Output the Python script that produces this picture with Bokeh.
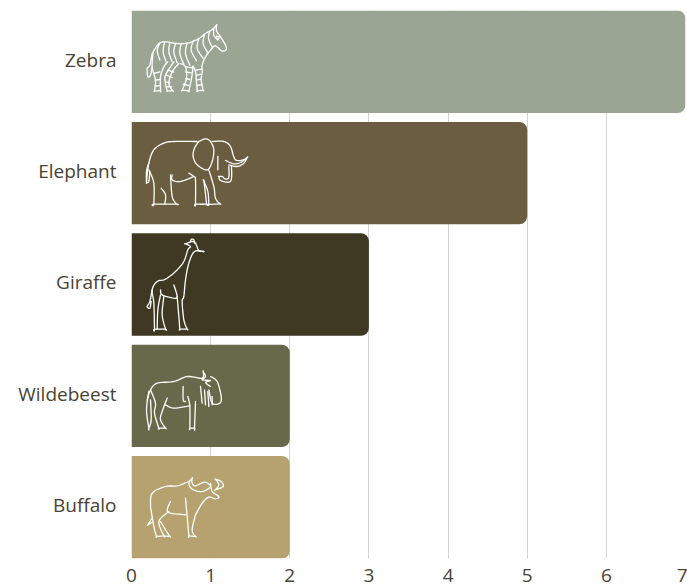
from bokeh.plotting import figure
from bokeh.models import Range1d, FixedTicker
from bokeh.embed import file_html
from bokeh.resources import INLINE

categories = ["Zebra", "Elephant", "Giraffe", "Wildebeest", "Buffalo"]
values = [7, 5, 3, 2, 2]
colors = ["#9ba593", "#6b5d3f", "#3f3924", "#666a4a", "#b5a26e"]
x_ticks = [0, 1, 2, 3, 4, 5, 6, 7]

# Decorative line icons, each in its own local drawing units (3 units = 1 px).
# A point given twice in a row stays a sharp corner.
zebra_icon = [
    [(68,155),(85,130),(105,125),(140,130),(175,128),(205,115),(225,100),(245,88),(258,75),(258,75),(258,92),(270,110),(285,135),(287,148),(275,153),(262,142),(252,137),(240,150),(225,170),(215,195),(215,215),(212,240),(218,270),(218,270),(200,272),(200,272),(198,245),(195,215),(188,198)],
    [(188,198),(183,235),(175,272),(175,272),(155,270),(155,270),(168,235),(165,200),(150,190)],
    [(68,155),(65,200),(75,240),(72,272),(72,272),(90,272),(90,272),(90,230),(100,200),(112,185)],
    [(130,185),(105,225),(105,250),(110,272),(110,272),(127,272),(127,272),(115,250),(125,215),(145,190)],
    [(65,160),(58,195),(50,205),(52,230),(60,225),(65,200)],
    [(88,130),(80,150),(88,180)], [(102,127),(98,155),(108,188)], [(118,128),(115,155),(125,185)],
    [(135,130),(130,155),(140,188)], [(152,130),(148,160),(160,192)], [(170,128),(165,160),(178,195)],
    [(188,122),(182,150),(198,182)], [(205,115),(200,145),(218,175)], [(222,102),(218,130),(232,158)],
    [(238,92),(234,115),(246,143)], [(250,85),(250,105),(262,120)],
    [(258,108),(262,118),(266,110),(258,108)],
    [(196,210),(214,207)], [(198,225),(214,222)], [(198,240),(212,237)], [(200,256),(216,253)],
    [(168,200),(186,203)], [(165,215),(182,218)], [(166,235),(178,238)], [(158,252),(174,256)],
    [(70,220),(88,215)], [(74,240),(90,238)], [(74,258),(90,256)],
    [(112,210),(130,216)], [(108,225),(125,232)], [(106,245),(118,248)], [(110,260),(124,260)],
]
elephant_icon = [
    [(48,185),(55,130),(70,90),(100,70),(130,65),(200,65)],
    [(205,65),(192,85),(188,110),(200,135),(230,150),(245,125),(250,90),(240,65),(225,57),(205,65)],
    [(245,65),(280,65),(300,80),(315,120),(345,118)],
    [(285,122),(310,132),(330,128),(350,113),(350,113),(340,130),(320,140),(295,135)],
    [(262,110),(262,150)],
    [(303,138),(303,175),(295,187),(270,182),(265,170),(265,170),(275,170),(285,178),(295,172),(295,140)],
    [(235,150),(250,200),(255,235),(268,252),(268,252),(235,254),(235,254),(232,215),(218,180)],
    [(220,180),(228,250),(228,253),(195,253),(195,253),(195,180),(190,170),(175,160)],
    [(125,165),(125,180),(150,185),(190,170)],
    [(55,150),(70,190),(70,253),(70,253),(138,253),(138,253),(125,230),(120,165)],
    [(92,205),(105,225),(103,253)],
    [(55,130),(48,155),(48,188),(48,188),(55,185),(58,155)],
]
giraffe_icon = [
    [(220,65),(205,62),(195,40),(185,35),(165,42),(165,42),(180,50),(172,60),(160,95),(135,125),(105,148),(80,155),(65,180),(70,220),(72,298),(72,298),(105,298),(105,298),(95,255),(100,200)],
    [(220,65),(192,65),(175,100),(165,150),(160,200),(155,215),(160,270),(170,298),(170,298),(148,298),(148,298),(145,260),(140,200)],
    [(90,180),(95,195),(130,205),(140,200),(130,165)],
    [(90,195),(82,240),(80,298)],
    [(65,180),(58,215),(50,230),(58,235),(62,215)],
    [(180,35),(183,28),(190,30),(192,40)],
]
wildebeest_icon = [
    [(50,180),(60,150),(80,130),(130,125),(170,110),(215,115),(218,95),(218,95),(225,110),(215,120),(240,122),(225,128),(240,140)],
    [(240,110),(260,125),(272,170),(268,190),(245,190),(235,150)],
    [(210,140),(215,190)], [(222,150),(225,195)], [(232,155),(235,200)], [(245,170),(245,195)],
    [(195,185),(192,265),(192,265),(178,265),(178,265),(178,200),(172,170)],
    [(105,195),(130,205),(178,198)],
    [(60,150),(75,190),(72,220),(85,265),(85,265),(105,265),(105,265),(90,240),(95,215),(110,175)],
    [(55,155),(48,210),(55,265),(55,265),(62,240),(60,180)],
    [(158,140),(158,180),(165,185)],
]
buffalo_icon = [
    [(60,170),(65,130),(105,110),(140,108),(175,95)],
    [(185,85),(185,85),(175,100),(185,118),(215,125),(240,110),(222,97),(195,108),(185,100),(185,85)],
    [(255,88),(255,88),(272,95),(278,110),(255,120),(255,120),(265,105),(255,88)],
    [(240,100),(245,125),(265,140),(255,147),(235,142),(215,160),(195,195)],
    [(195,195),(185,240),(195,260),(195,260),(175,258),(175,258),(170,200),(165,145)],
    [(120,155),(110,180),(120,190),(165,195)],
    [(60,170),(70,230),(78,260),(78,260),(100,258),(100,258),(85,215),(115,185)],
    [(90,215),(105,240),(118,260),(118,260),(100,258)],
    [(65,205),(52,225),(52,225),(65,218)],
]
icons = [zebra_icon, elephant_icon, giraffe_icon, wildebeest_icon, buffalo_icon]
icon_dy = [-31, 328, 658, 988, 1318]   # vertical placement of each icon, local units
icon_dx = -3


def smooth(pts, steps=6):
    """Catmull-Rom rounding so that the icon outlines read as hand-drawn curves."""
    if len(pts) < 3:
        return [p[0] for p in pts], [p[1] for p in pts]
    xs, ys = [pts[0][0]], [pts[0][1]]
    for i in range(len(pts) - 1):
        p0 = pts[max(i - 1, 0)]
        p1, p2 = pts[i], pts[i + 1]
        p3 = pts[min(i + 2, len(pts) - 1)]
        for k in range(1, steps + 1):
            t = k / steps
            f = lambda a, b, c, d: 0.5 * (2*b + (c-a)*t + (2*a-5*b+4*c-d)*t*t + (3*b-a-3*c+d)*t*t*t)
            xs.append(f(p0[0], p1[0], p2[0], p3[0]))
            ys.append(f(p0[1], p1[1], p2[1], p3[1]))
    return xs, ys


n = len(categories)
positions = [n - 1 - i for i in range(n)]
bar_height = 0.92
label_lift = 0.018  # the hidden tick sits a little above the bar centre, as the reference's labels do
label_positions = [v + label_lift for v in positions]

p = figure(
    y_range=Range1d(-bar_height / 2, n - 1 + bar_height / 2),
    x_range=Range1d(0, 7),
    frame_width=554, frame_height=548,
    min_border_left=131, min_border_right=2, min_border_top=10, min_border_bottom=29,
    output_backend="svg", toolbar_location=None, background_fill_color="white",
    border_fill_color="white", outline_line_color=None,
)
p.extra_x_ranges["icon_x"] = Range1d(0, 554 * 3)
p.extra_y_ranges["icon_y"] = Range1d(548 * 3, 0)

p.hbar(y=positions, right=values, left=0, height=bar_height, color=colors, line_color=None,
       border_radius=(0, 8, 8, 0))

for icon, dy in zip(icons, icon_dy):
    xs, ys = [], []
    for path in icon:
        x, y = smooth(path)
        xs.append([v + icon_dx for v in x])
        ys.append([v + dy for v in y])
    p.multi_line(xs, ys, x_range_name="icon_x", y_range_name="icon_y",
                 line_color="white", line_width=1.3, line_join="round", line_cap="round")

p.ygrid.visible = False
p.xgrid.ticker = FixedTicker(ticks=x_ticks)
p.xgrid.grid_line_color = "#d3d3d3"
p.xgrid.grid_line_width = 1
p.xaxis.ticker = FixedTicker(ticks=x_ticks)
p.yaxis.ticker = FixedTicker(ticks=label_positions)
p.yaxis.major_label_overrides = dict(zip(label_positions, categories))

for ax in (p.xaxis[0], p.yaxis[0]):
    ax.axis_line_color = None
    ax.major_tick_line_color = None
    ax.minor_tick_line_color = None
    ax.major_tick_out = 0
    ax.major_tick_in = 0
    ax.major_label_text_font = "Open Sans"
    ax.major_label_text_font_size = "19px"
    ax.major_label_text_color = "#4a4232"
p.yaxis.major_label_standoff = 15
p.xaxis.major_label_standoff = 10

open("out.html", "w").write(file_html(p, INLINE))
